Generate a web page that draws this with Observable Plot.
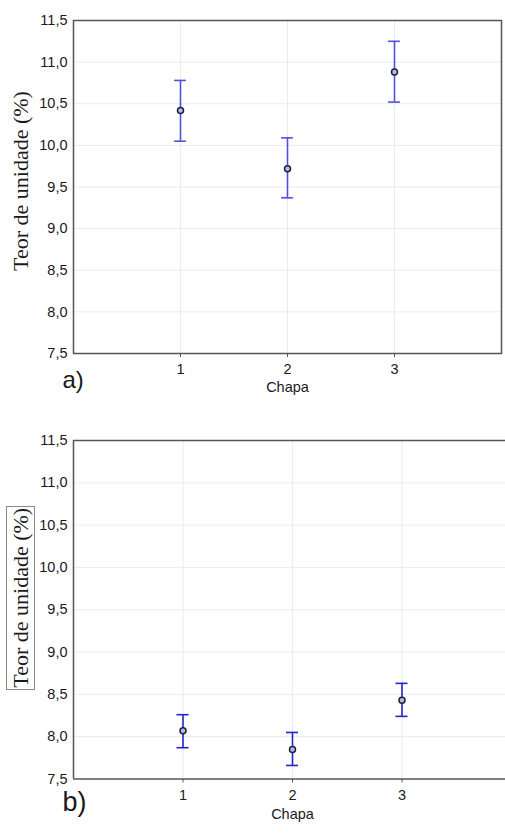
<!DOCTYPE html>
<html><head><meta charset="utf-8">
<script src="https://cdn.jsdelivr.net/npm/d3@7"></script>
<script src="https://cdn.jsdelivr.net/npm/@observablehq/plot@0.6"></script>
<style>
html,body{margin:0;padding:0;background:#fff;}
body{position:relative;width:505px;height:834px;overflow:hidden;font-family:"Liberation Sans",Arial,sans-serif;}
#boxA{position:absolute;left:7px;top:-2px;width:498px;height:413px;border-left:1px solid #c8c8c8;border-bottom:1px solid #c8c8c8;}
#boxB{position:absolute;left:33px;top:423px;width:400px;height:420px;border-left:1px solid #c8c8c8;}
#plotA{position:absolute;left:0;top:0;width:505px;height:412px;overflow:hidden;}
#plotB{position:absolute;left:0;top:420px;width:505px;height:414px;overflow:hidden;}
#plotA svg,#plotB svg{max-width:none !important;}
.lblbox{position:absolute;border:1px solid #8a8a8a;}
</style>
</head><body>
<div id="boxA"></div>
<div id="boxB"></div>
<div id="plotA"></div>
<div id="plotB"></div>
<script>
// ---- data ----
const chapa = [1, 2, 3];
const meanA = [10.42, 9.72, 10.88];
const lowA  = [10.05, 9.37, 10.52];
const highA = [10.78, 10.09, 11.25];
const meanB = [8.07, 7.85, 8.43];
const lowB  = [7.87, 7.66, 8.24];
const highB = [8.26, 8.05, 8.63];
const xTicks = [1, 2, 3];
const xDomain = [0, 4];
const yTicks = [7.5, 8.0, 8.5, 9.0, 9.5, 10.0, 10.5, 11.0, 11.5];
const yDomain = [7.5, 11.5];
const yLabel = "Teor de unidade (%)";
const xLabel = "Chapa";
const panelA = "a)";
const panelB = "b)";

const fmt = d => d.toFixed(1).replace(".", ",");
const CAP = 0.055;
const FRAME = "#555";

function chart({mean, low, high, width, marginRight, height, marginBottom, color, panel, panelSize, panelDy, labelDy, xlabDy, tickPad, rightSide}) {
  const rows = chapa.map((c, i) => ({chapa: c, mean: mean[i], low: low[i], high: high[i]}));
  const frameMarks = rightSide
    ? [Plot.frame({stroke: FRAME, strokeWidth: 1.5})]
    : [Plot.ruleX([xDomain[0]], {stroke: FRAME, strokeWidth: 1.5}),
       Plot.ruleY(yDomain, {stroke: FRAME, strokeWidth: 1.5})];
  return Plot.plot({
    width, height,
    marginLeft: 73, marginRight, marginTop: 20, marginBottom,
    style: {fontFamily: '"Liberation Sans", Arial, sans-serif', fontSize: "14.5px", color: "#1a1a1a", background: "#fff", maxWidth: "none"},
    x: {domain: xDomain},
    y: {domain: yDomain},
    marks: [
      Plot.gridX(xTicks, {stroke: "#ebebeb", strokeOpacity: 1}),
      Plot.gridY(yTicks.slice(1, -1), {stroke: "#ebebeb", strokeOpacity: 1}),
      Plot.axisX(xTicks, {tickSize: 4, tickPadding: tickPad, label: null, tickFormat: d => String(d), stroke: FRAME, fontSize: 14.5, fill: "#1a1a1a"}),
      Plot.axisY(yTicks, {tickSize: 0, tickPadding: 6, label: null, tickFormat: fmt, fontSize: 14.5, fill: "#1a1a1a"}),
      ...frameMarks,
      Plot.ruleX(rows, {x: "chapa", y1: "low", y2: "high", stroke: color, strokeWidth: 1.6}),
      Plot.ruleY(rows, {y: "low", x1: d => d.chapa - CAP, x2: d => d.chapa + CAP, stroke: color, strokeWidth: 1.6}),
      Plot.ruleY(rows, {y: "high", x1: d => d.chapa - CAP, x2: d => d.chapa + CAP, stroke: color, strokeWidth: 1.6}),
      Plot.dot(rows, {x: "chapa", y: "mean", r: 3, stroke: "#1c2040", strokeWidth: 1.5, fill: "#b9bcd6"}),
      Plot.text([yLabel], {frameAnchor: "left", textAnchor: "middle", rotate: -90, dx: -53, dy: labelDy, fontFamily: '"Liberation Serif", "Times New Roman", serif', fontSize: 22, fill: "#1a1a1a"}),
      Plot.text([xLabel], {frameAnchor: "bottom", textAnchor: "middle", dy: xlabDy, fontSize: 14.5, fill: "#1a1a1a"}),
      Plot.text([panel], {frameAnchor: "bottom-left", dx: -11, dy: panelDy, textAnchor: "start", fontSize: panelSize, fill: "#1a1a1a"})
    ]
  });
}

const a = chart({mean: meanA, low: lowA, high: highA, width: 505, marginRight: 4, height: 412, marginBottom: 59,
  color: "#5050dc", panel: panelA, panelSize: 24, panelDy: 34, labelDy: -6, xlabDy: 38, tickPad: 6, rightSide: true});
document.getElementById("plotA").appendChild(a);

const b = chart({mean: meanB, low: lowB, high: highB, width: 512, marginRight: 1, height: 414, marginBottom: 55.5,
  color: "#2424cc", panel: panelB, panelSize: 27, panelDy: 32, labelDy: -12, xlabDy: 40, tickPad: 7, rightSide: false});
document.getElementById("plotB").appendChild(b);

// box around the y label of panel b
const t = Array.from(b.querySelectorAll("text")).find(el => el.textContent === yLabel);
if (t) {
  const r = t.getBoundingClientRect();
  const box = document.createElement("div");
  box.className = "lblbox";
  box.style.left = (r.left - 2) + "px";
  box.style.top = (r.top - 2) + "px";
  box.style.width = (r.width + 2) + "px";
  box.style.height = (r.height + 2) + "px";
  document.body.appendChild(box);
}
</script>
</body></html>
